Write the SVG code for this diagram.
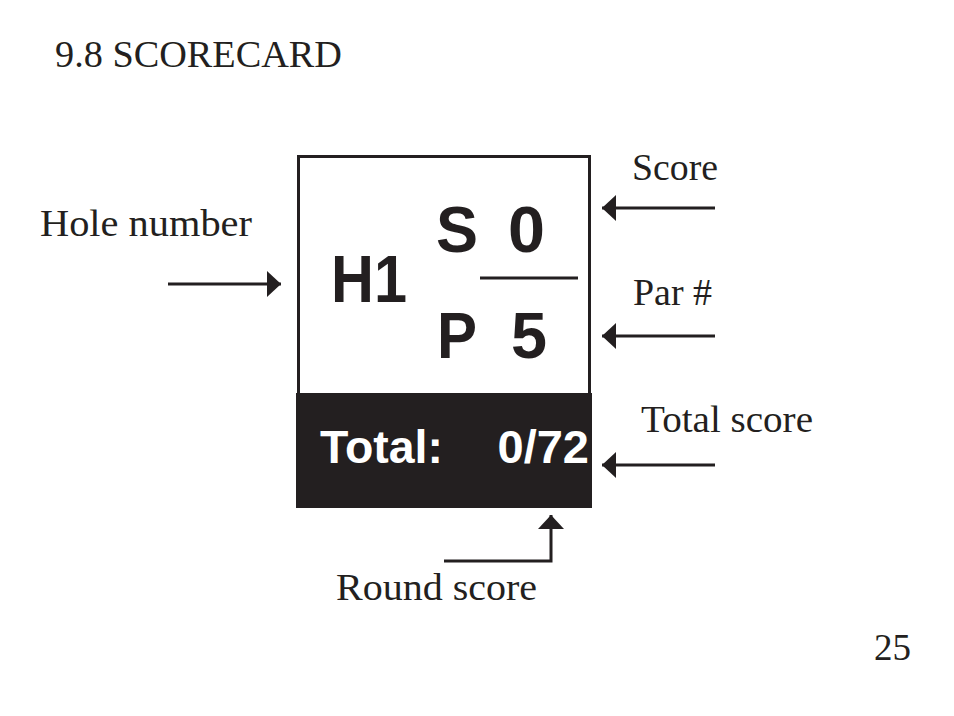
<svg xmlns="http://www.w3.org/2000/svg" width="954" height="716" viewBox="0 0 954 716">
<style>
.lbl{font-family:"Liberation Serif","Times New Roman",serif;font-size:37px;fill:#231f20}
.big{font-family:"Liberation Sans",Arial,sans-serif;font-weight:bold;fill:#231f20}
.wht{font-family:"Liberation Sans",Arial,sans-serif;font-weight:bold;fill:#ffffff;font-size:47px}
.conn{stroke:#231f20;stroke-width:3;fill:none}
</style>
<defs>
<marker id="ah" markerUnits="userSpaceOnUse" markerWidth="16" markerHeight="26" viewBox="0 0 14 26" refX="14" refY="13" orient="auto">
<path d="M0,0 L14,13 L0,26 Z" fill="#231f20"/>
</marker>
</defs>
<rect width="954" height="716" fill="#ffffff"/>
<text id="title" class="lbl" x="55" y="67" font-size="35" textLength="287" lengthAdjust="spacingAndGlyphs">9.8 SCORECARD</text>
<g id="scorecard">
<rect x="298.5" y="156.5" width="291" height="238" fill="#ffffff" stroke="#231f20" stroke-width="3"/>
<rect x="296" y="393" width="296" height="115" fill="#231f20"/>
<text class="big" x="331" y="302" font-size="66" textLength="76" lengthAdjust="spacingAndGlyphs">H1</text>
<text class="big" x="436" y="252" font-size="64" textLength="42" lengthAdjust="spacingAndGlyphs">S</text>
<text class="big" x="508" y="252" font-size="64" textLength="37" lengthAdjust="spacingAndGlyphs">0</text>
<text class="big" x="437" y="358" font-size="64" textLength="40" lengthAdjust="spacingAndGlyphs">P</text>
<text class="big" x="511" y="358" font-size="64" textLength="36" lengthAdjust="spacingAndGlyphs">5</text>
<line x1="480" y1="278" x2="578" y2="278" stroke="#231f20" stroke-width="3"/>
<text class="wht" x="320" y="463" textLength="123" lengthAdjust="spacingAndGlyphs">Total:</text>
<text class="wht" x="589" y="463" text-anchor="end">0/72</text>
</g>
<g id="label-hole"><text class="lbl" x="40" y="236" textLength="212" lengthAdjust="spacingAndGlyphs">Hole number</text></g>
<g id="label-score"><text class="lbl" x="632" y="180" textLength="86" lengthAdjust="spacingAndGlyphs">Score</text></g>
<g id="label-par"><text class="lbl" x="633" y="305" textLength="79" lengthAdjust="spacingAndGlyphs">Par #</text></g>
<g id="label-total"><text class="lbl" x="641" y="432" textLength="172" lengthAdjust="spacingAndGlyphs">Total score</text></g>
<g id="label-round"><text class="lbl" x="336" y="600" textLength="201" lengthAdjust="spacingAndGlyphs">Round score</text></g>
<text id="page" class="lbl" x="874" y="660" textLength="37" lengthAdjust="spacingAndGlyphs">25</text>
<g id="connectors">
<line class="conn" x1="168" y1="284" x2="281" y2="284" marker-end="url(#ah)"/>
<line class="conn" x1="715" y1="208" x2="602" y2="208" marker-end="url(#ah)"/>
<line class="conn" x1="715" y1="336" x2="602" y2="336" marker-end="url(#ah)"/>
<line class="conn" x1="715" y1="465" x2="602" y2="465" marker-end="url(#ah)"/>
<path class="conn" d="M444,561 H551 V515" marker-end="url(#ah)"/>
</g>
</svg>
